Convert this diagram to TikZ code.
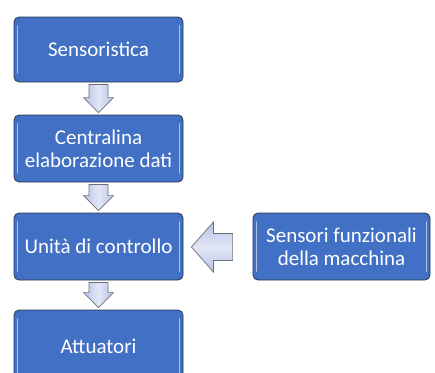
\documentclass[tikz,border=0pt]{standalone}
\usepackage{fontspec}
\setmainfont{Carlito}
\usetikzlibrary{calc}
\definecolor{boxblue}{HTML}{4170C4}
\definecolor{boxedge}{HTML}{2A3550}
\definecolor{shine}{HTML}{A9C3EE}
\definecolor{arrfill}{HTML}{B8C1E4}
\definecolor{arrmid}{HTML}{E2E7F7}
\definecolor{arredge}{HTML}{6E6E78}
\tikzset{
  blockbox/.style={draw=boxedge, line width=0.8pt, fill=boxblue, rounded corners=5pt,
    text=white, font=\fontsize{21}{23}\selectfont, align=center, inner sep=2pt,
    path picture={
      \draw[shine, line width=1.6pt, line cap=round]
        ([xshift=3.5pt,yshift=-9pt]path picture bounding box.north west) --
        ([xshift=3.5pt,yshift=9pt]path picture bounding box.south west);
      \draw[shine, line width=1.6pt, line cap=round]
        ([xshift=-3.5pt,yshift=-9pt]path picture bounding box.north east) --
        ([xshift=-3.5pt,yshift=9pt]path picture bounding box.south east);
    }},
  downarrow/.style={draw=arredge, line width=0.7pt, line join=miter,
    left color=arrfill, right color=arrfill, middle color=arrmid},
  leftarrow/.style={draw=arredge, line width=0.7pt, line join=miter,
    top color=arrfill, bottom color=arrfill, middle color=arrmid},
}
\begin{document}
\begin{tikzpicture}[x=1pt,y=-1pt]
\useasboundingbox (0,0) rectangle (435,372);
\clip (0,0) rectangle (435,372);
\node[blockbox, minimum width=169pt, minimum height=65pt] (sens) at (98.5,49.5) {Sensoristica};
\node[blockbox, minimum width=169pt, minimum height=67pt] (cent) at (98.5,148.5) {Centralina\\elaborazione dati};
\node[blockbox, minimum width=169pt, minimum height=67pt] (unit) at (98.5,246.5) {Unità di controllo};
\node[blockbox, minimum width=169pt, minimum height=72pt] (attu) at (98.5,346) {Attuatori};
\node[blockbox, minimum width=177pt, minimum height=67pt] (sfun) at (341.5,246.5) {Sensori funzionali\\della macchina};
% down block arrows
\foreach \a/\b in {sens/cent, cent/unit, unit/attu}{
  \coordinate (s) at ($(\a.south)+(0,2)$);
  \coordinate (t) at ($(\b.north)+(0,-2)$);
  \path[downarrow] ($(s)+(-9.5,0)$) -- ($(s)+(9.5,0)$) -- ($(t)+(9.5,-15)$) -- ($(t)+(15,-15)$)
    -- (t) -- ($(t)+(-15,-15)$) -- ($(t)+(-9.5,-15)$) -- cycle;
}
% left block arrow
\coordinate (ls) at ($(sfun.west)+(-20,0.5)$);
\coordinate (lt) at ($(unit.east)+(8,0.5)$);
\path[leftarrow] ($(ls)+(0,-13.5)$) -- ($(ls)+(0,13.5)$) -- ($(lt)+(22,13.5)$) -- ($(lt)+(22,25)$)
  -- (lt) -- ($(lt)+(22,-25)$) -- ($(lt)+(22,-13.5)$) -- cycle;
\end{tikzpicture}
\end{document}
